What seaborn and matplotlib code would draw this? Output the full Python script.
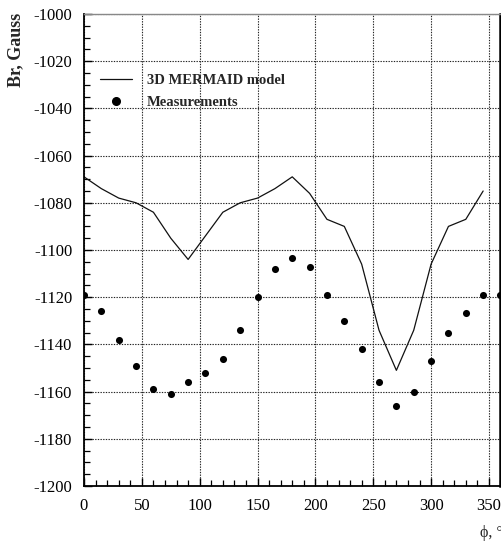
import matplotlib
matplotlib.use("Agg")
import matplotlib.pyplot as plt
from matplotlib.ticker import MultipleLocator
from matplotlib.lines import Line2D
import pandas as pd
import seaborn as sns

# Radial field Br of the 3D MERMAID model vs azimuth (degrees)
model_phi = [0, 15, 30, 45, 60, 75, 90, 105, 120, 135, 150, 165,
             180, 195, 210, 225, 240, 255, 270, 285, 300, 315, 330, 345]
model_br = [-1069, -1074, -1078, -1080, -1084, -1095, -1104, -1094, -1084, -1080, -1078, -1074,
            -1069, -1076, -1087, -1090, -1106, -1134, -1151, -1134, -1106, -1090, -1087, -1075]

# Measured Br at the same azimuths
meas_phi = [0, 15, 30, 45, 60, 75, 90, 105, 120, 135, 150, 165,
            180, 195, 210, 225, 240, 255, 270, 285, 300, 315, 330, 345, 360]
meas_br = [-1119, -1126, -1138, -1149, -1159, -1161, -1156, -1152, -1146, -1134, -1120, -1108,
           -1103.5, -1107, -1119, -1130, -1142, -1156, -1166, -1160, -1147, -1135, -1126.5, -1119, -1119]

x_ticks = [0, 50, 100, 150, 200, 250, 300, 350]
y_ticks = [-1200, -1180, -1160, -1140, -1120, -1100, -1080, -1060, -1040, -1020, -1000]

model = pd.DataFrame({"phi": model_phi, "br": model_br})
meas = pd.DataFrame({"phi": meas_phi, "br": meas_br})

sns.set_theme(style="white")
plt.rcParams["font.family"] = ["Liberation Serif", "DejaVu Serif"]
plt.rcParams["axes.unicode_minus"] = False

fig = plt.figure(figsize=(5.02, 5.42), dpi=100)
ax = fig.add_axes([84 / 502, 1 - 486 / 542, (500.5 - 84) / 502, (486 - 14) / 542])

sns.lineplot(data=model, x="phi", y="br", ax=ax, color="#111111", linewidth=0.9,
             legend=False)
sns.scatterplot(data=meas, x="phi", y="br", ax=ax, color="black", s=26, linewidth=0,
                marker="o", legend=False, clip_on=True, zorder=3)

ax.set_xlim(0, 360)
ax.set_ylim(-1200, -1000)
ax.set_xticks(x_ticks)
ax.set_yticks(y_ticks)
ax.xaxis.set_minor_locator(MultipleLocator(10))
ax.yaxis.set_minor_locator(MultipleLocator(5))
ax.tick_params(which="both", direction="in", colors="black", labelsize=12,
               top=False, right=False, left=True, bottom=True)
ax.tick_params(which="major", length=6, width=1.0, pad=8.5)
ax.tick_params(which="minor", length=4.5, width=0.9)
ax.set_xlabel("")
ax.set_ylabel("")

ax.grid(True, which="major", color="#222222", linestyle=(0, (1.2, 1.2)), linewidth=0.8)
ax.set_axisbelow(True)

for side in ["left", "bottom"]:
    ax.spines[side].set_color("black")
    ax.spines[side].set_linewidth(1.3)
ax.spines["right"].set_color("black")
ax.spines["right"].set_linewidth(1.8)
ax.spines["top"].set_color("#888888")
ax.spines["top"].set_linewidth(1.0)

handles = [
    Line2D([], [], color="#111111", linewidth=0.9),
    Line2D([], [], color="black", marker="o", linestyle="none", markersize=5.5),
]
ax.legend(handles, ["3D MERMAID model", "Measurements"], loc="upper left",
          bbox_to_anchor=(0.038, 0.874), frameon=False, borderpad=0, borderaxespad=0,
          handlelength=2.2, handletextpad=1.05, labelspacing=0.6,
          prop={"family": "Liberation Serif", "weight": "bold", "size": 10.5})

fig.text(16 / 502, 1 - 13 / 542, "Br, Gauss", rotation=90, ha="center", va="top",
         fontsize=13, fontweight="bold")
fig.text(491 / 502, 1 - 533 / 542, "\u03d5, \u00b0", ha="center", va="center", fontsize=11.5,
         family=["Liberation Serif", "DejaVu Serif"])

fig.savefig("out.png", dpi=100, facecolor="white")
